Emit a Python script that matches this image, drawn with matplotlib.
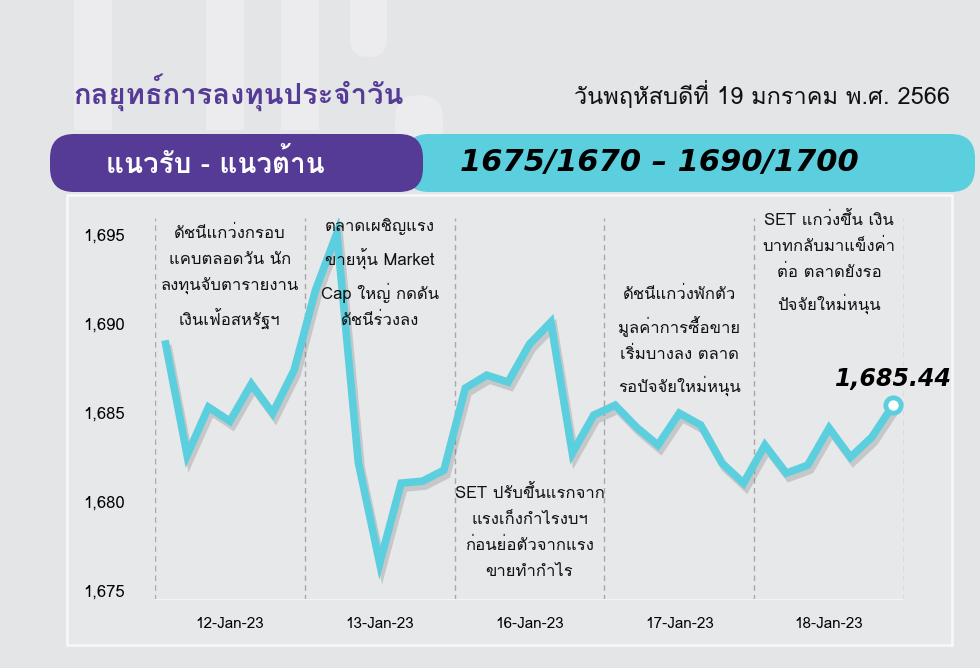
import matplotlib
matplotlib.use("Agg")
import matplotlib.pyplot as plt
import matplotlib.font_manager as fm
import matplotlib.patheffects as pe
from matplotlib.ft2font import FT2Font
from matplotlib.patches import Rectangle, FancyBboxPatch

# find a family that has Thai glyphs
thai_font = None
for f in fm.fontManager.ttflist:
    try:
        if 0x0E01 in FT2Font(f.fname).get_charmap():
            thai_font = f.name
            break
    except Exception:
        pass
fams = [thai_font, 'DejaVu Sans'] if thai_font else ['DejaVu Sans']
plt.rcParams['font.family'] = fams

# data
days = ['12-Jan-23', '13-Jan-23', '16-Jan-23', '17-Jan-23', '18-Jan-23']
set_index = [
    1688.86, 1682.61, 1685.31, 1684.52, 1686.61, 1684.97, 1687.39,
    1691.90, 1695.11, 1682.21, 1676.52, 1681.03, 1681.14, 1681.76,
    1686.38, 1687.11, 1686.72, 1688.86, 1690.10, 1682.72, 1684.86,
    1685.42, 1684.18, 1683.17, 1684.97, 1684.30, 1682.15, 1681.03,
    1683.17, 1681.59, 1682.04, 1684.13, 1682.49, 1683.62, 1685.44,
]
points_per_day = 7
yticks = [1675, 1680, 1685, 1690, 1695]
notes = [
    "ดัชนีแกว่งกรอบ\nแคบตลอดวัน นัก\nลงทุนจับตารายงาน\nเงินเฟ้อสหรัฐฯ",
    "ตลาดเผชิญแรง\nขายหุ้น Market\nCap ใหญ่ กดดัน\nดัชนีร่วงลง",
    "SET ปรับขึ้นแรกจาก\nแรงเก็งกำไรงบฯ\nก่อนย่อตัวจากแรง\nขายทำกำไร",
    "ดัชนีแกว่งพักตัว\nมูลค่าการซื้อขาย\nเริ่มบางลง ตลาด\nรอปัจจัยใหม่หนุน",
    "SET แกว่งขึ้น เงิน\nบาทกลับมาแข็งค่า\nต่อ ตลาดยังรอ\nปัจจัยใหม่หนุน",
]
note_top = [1695.5, 1695.95, 1680.9, 1692.1, 1696.3]
title = "กลยุทธ์การลงทุนประจำวัน"
date_txt = "วันพฤหัสบดีที่ 19 มกราคม พ.ศ. 2566"
band_label = "แนวรับ - แนวต้าน"
band_value = "1675/1670 – 1690/1700"

purple = '#553a96'
cyan = '#5ccfdf'

fig = plt.figure(figsize=(9.8, 6.68), dpi=100)
fig.patch.set_facecolor('#e4e5e7')

# background layer in pixel units
bg = fig.add_axes([0, 0, 1, 1])
bg.set_xlim(0, 980)
bg.set_ylim(668, 0)
bg.axis('off')
for x0 in [74, 206, 281]:
    bg.add_patch(Rectangle((x0, 0), 38, 130, color='#ececee', lw=0))
bg.add_patch(FancyBboxPatch((350, -30), 37, 87, boxstyle="round,pad=0,rounding_size=18",
                            color='#ececee', lw=0))
bg.add_patch(FancyBboxPatch((395, 95), 48, 80, boxstyle="round,pad=0,rounding_size=24",
                            color='#ececee', lw=0))
bg.add_patch(Rectangle((67, 195), 885, 450, facecolor='#e7e8ea', edgecolor='#f7f7f8', lw=2))
bg.add_patch(FancyBboxPatch((405, 134), 570, 58, boxstyle="round,pad=0,rounding_size=24",
                            color=cyan, lw=0))
bg.add_patch(FancyBboxPatch((50, 134), 373, 58, boxstyle="round,pad=0,rounding_size=24",
                            color=purple, lw=0))
bg.text(73, 92, title, color=purple, fontsize=21, fontweight='bold', va='center', ha='left')
bg.text(950, 95, date_txt, color='#111111', fontsize=17, va='center', ha='right')
bg.text(215, 163, band_label, color='white', fontsize=20, fontweight='bold', va='center', ha='center')
bg.text(460, 163, band_value, color='black', fontsize=22, fontweight='bold', style='italic',
        va='center', ha='left', family='DejaVu Sans')

# chart
ax = fig.add_axes([155 / 980, 68 / 668, 749 / 980, 382 / 668])
ax.set_facecolor('none')
x = list(range(len(set_index)))
ax.plot(x, set_index, color=cyan, lw=5.5, solid_joinstyle='miter', zorder=3,
        path_effects=[pe.SimpleLineShadow(offset=(2, -3.5), shadow_color='#666666', alpha=0.25),
                      pe.Normal()])
ax.plot(x[-1], set_index[-1], 'o', ms=11, mfc='white', mec=cyan, mew=3.5, zorder=4)
ax.annotate(f"{set_index[-1]:,.2f}", (x[-1], set_index[-1]), xytext=(0, 10),
            textcoords='offset points', ha='center', va='bottom', fontsize=17,
            fontweight='bold', style='italic', family='DejaVu Sans', annotation_clip=False)

for d in range(len(days) + 1):
    ax.axvline(d * points_per_day - 0.5, color='#a8a8a8', lw=1, ls=(0, (4, 3)), zorder=1)
ax.axhline(1674.45, color='#f3f3f3', lw=1.5, zorder=1)

for d, (txt, top) in enumerate(zip(notes, note_top)):
    ax.text(d * points_per_day + 3, top, txt, ha='center', va='top', fontsize=12,
            linespacing=1.8, color='#111111', zorder=5, clip_on=False)

ax.set_xlim(-0.5, len(set_index) - 0.5)
ax.set_ylim(1674.45, 1695.96)
ax.set_yticks(yticks)
ax.set_yticklabels([f"{v:,}" for v in yticks])
ax.set_xticks([d * points_per_day + 3 for d in range(len(days))])
ax.set_xticklabels(days)
ax.tick_params(axis='y', length=0, pad=22, labelsize=12)
ax.tick_params(axis='x', length=0, pad=12, labelsize=11)
for s in ax.spines.values():
    s.set_visible(False)

fig.savefig('out.png', dpi=100, facecolor=fig.get_facecolor())
